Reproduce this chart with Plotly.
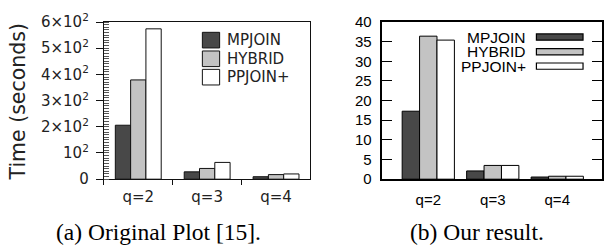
import plotly.graph_objects as go

# ---- data ----
categories = ["q=2", "q=3", "q=4"]
series_names = ["MPJOIN", "HYBRID", "PPJOIN+"]

# (a) Original plot [15]  (seconds)
orig_mpjoin = [206, 28, 9.4]
orig_hybrid = [379, 41, 17.5]
orig_ppjoin = [574, 64, 20]

# (b) Our result (seconds)
ours_mpjoin = [17.3, 2.1, 0.55]
ours_hybrid = [36.4, 3.5, 0.75]
ours_ppjoin = [35.4, 3.5, 0.75]

left_tick_vals = [0, 100, 200, 300, 400, 500, 600]
left_tick_text = ["0", "10<sup>2</sup>", "2×10<sup>2</sup>", "3×10<sup>2</sup>",
                  "4×10<sup>2</sup>", "5×10<sup>2</sup>", "6×10<sup>2</sup>"]

captions = ["(a) Original Plot [15].", "(b) Our result."]
y_title = "Time (seconds)"

# ---- styles ----
W, H = 604, 247
fills = ["#484848", "#c3c3c3", "#ffffff"]
LEFT_FONT = "DejaVu Sans"
RIGHT_FONT = "Liberation Sans, Arial"
SERIF = "Liberation Serif, Times New Roman"


def fx(p):
    return p / W


def fy(p):
    return (H - p) / H


fig = go.Figure()

orig = [orig_mpjoin, orig_hybrid, orig_ppjoin]
ours = [ours_mpjoin, ours_hybrid, ours_ppjoin]

lw, loffs = 0.222, [-0.333, -0.111, 0.111]
rw, roffs = 0.27, [-0.405, -0.135, 0.135]

for i, name in enumerate(series_names):
    fig.add_trace(go.Bar(x=categories, y=orig[i], name=name, xaxis="x", yaxis="y",
                         width=lw, offset=loffs[i],
                         marker=dict(color=fills[i], line=dict(color="#111", width=1)),
                         showlegend=False))
    fig.add_trace(go.Bar(x=categories, y=ours[i], name=name, xaxis="x2", yaxis="y2",
                         width=rw, offset=roffs[i],
                         marker=dict(color=fills[i], line=dict(color="#000", width=1)),
                         showlegend=False))

ydom = [fy(183), fy(12)]

fig.update_layout(
    width=W, height=H, autosize=False,
    margin=dict(l=0, r=0, t=0, b=0),
    paper_bgcolor="white", plot_bgcolor="white",
    barmode="overlay",
    xaxis=dict(domain=[fx(104), fx(311)], anchor="y", type="category",
               range=[-0.5, 2.5], showline=True, linecolor="#111", linewidth=1,
               mirror=True, ticks="outside", tickson="boundaries", ticklen=5,
               tickcolor="#111", showgrid=False, ticklabelstandoff=4,
               tickfont=dict(family=LEFT_FONT, size=15, color="#222")),
    yaxis=dict(domain=ydom, anchor="x", range=[0, 600],
               tickvals=left_tick_vals, ticktext=left_tick_text,
               showline=True, linecolor="#111", linewidth=1, mirror=True,
               ticks="outside", ticklen=7, tickcolor="#111", ticklabelstandoff=4,
               showgrid=False, zeroline=False,
               minor=dict(dtick=10, ticks="inside", ticklen=5, tickcolor="#555",
                          showgrid=False),
               tickfont=dict(family=LEFT_FONT, size=15, color="#222")),
    xaxis2=dict(domain=[fx(383), fx(603)], anchor="y2", type="category",
                range=[-0.712, 2.694], showline=True, linecolor="#000", linewidth=1.5,
                mirror=True, ticks="", showgrid=False, ticklabelstandoff=6,
                tickfont=dict(family=RIGHT_FONT, size=15, color="#000")),
    yaxis2=dict(domain=ydom, anchor="x2", range=[0, 40], dtick=5,
                showline=True, linecolor="#000", linewidth=1.5, mirror="ticks",
                ticks="inside", ticklen=10, tickcolor="#000", ticklabelstandoff=6,
                showgrid=False, zeroline=False,
                tickfont=dict(family=RIGHT_FONT, size=15, color="#000")),
)

shapes = []
annotations = []

# left legend
left_rows = [31.7, 52, 72]
for i, name in enumerate(series_names):
    cy = left_rows[i]
    shapes.append(dict(type="rect", xref="paper", yref="paper",
                       x0=fx(202.7), x1=fx(220), y0=fy(cy + 8.5), y1=fy(cy - 8.5),
                       fillcolor=fills[i], line=dict(color="#111", width=1)))
    annotations.append(dict(xref="paper", yref="paper", x=fx(225.5), y=fy(cy),
                            xanchor="left", yanchor="middle", showarrow=False,
                            text=name, font=dict(family=LEFT_FONT, size=15, color="#222")))

# right legend
right_rows = [28.3, 44.3, 60]
for i, name in enumerate(series_names):
    cy = right_rows[i]
    shapes.append(dict(type="rect", xref="paper", yref="paper",
                       x0=fx(537.3), x1=fx(584), y0=fy(cy + 3.4), y1=fy(cy - 3.4),
                       fillcolor=fills[i], line=dict(color="#000", width=1.2)))
    annotations.append(dict(xref="paper", yref="paper", x=fx(529), y=fy(cy),
                            xanchor="right", yanchor="middle", showarrow=False,
                            text=name, font=dict(family=RIGHT_FONT, size=15.5, color="#000")))

# y title of left plot
annotations.append(dict(xref="paper", yref="paper", x=fx(18), y=fy(98.5),
                        xanchor="center", yanchor="middle", showarrow=False,
                        textangle=-90, text=y_title,
                        font=dict(family=LEFT_FONT, size=20.5, color="#222")))

# captions
annotations.append(dict(xref="paper", yref="paper", x=fx(159), y=fy(240),
                        xanchor="center", yanchor="middle", showarrow=False,
                        text=captions[0], font=dict(family=SERIF, size=23.5, color="#000")))
annotations.append(dict(xref="paper", yref="paper", x=fx(477.5), y=fy(240),
                        xanchor="center", yanchor="middle", showarrow=False,
                        text=captions[1], font=dict(family=SERIF, size=23.5, color="#000")))

fig.update_layout(shapes=shapes, annotations=annotations)

fig.write_html("out.html", config={"displayModeBar": False},
               post_script="document.body.style.margin='0';document.body.style.overflow='hidden';")
